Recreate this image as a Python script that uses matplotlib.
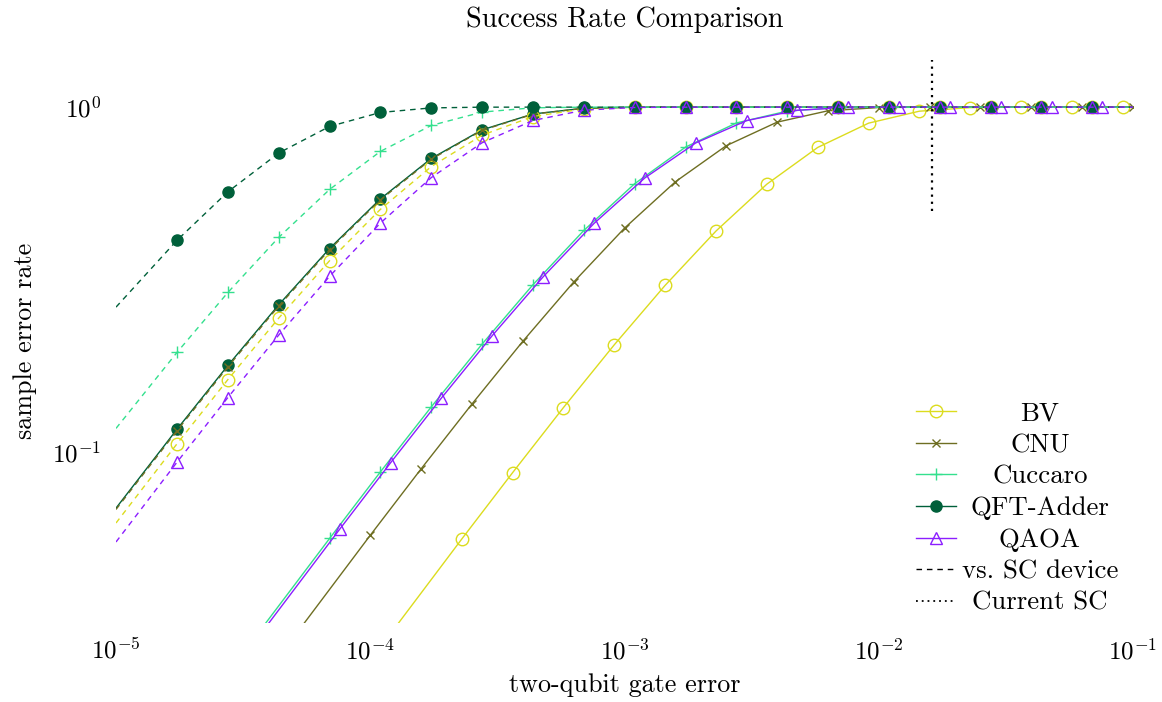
import matplotlib
matplotlib.use("Agg")
import matplotlib.pyplot as plt
from matplotlib.lines import Line2D
from matplotlib.ticker import NullFormatter, NullLocator, FixedLocator

plt.rcParams['font.family'] = 'serif'
plt.rcParams['font.serif'] = ['cmr10']
plt.rcParams['mathtext.fontset'] = 'cm'
plt.rcParams['axes.unicode_minus'] = False
plt.rcParams['axes.formatter.use_mathtext'] = True

# two-qubit gate error grid used by the "vs. SC device" curves (and QFT-Adder)
err_sc = [1.000e-5, 1.738e-5, 2.754e-5, 4.365e-5, 6.918e-5, 1.096e-4, 1.738e-4,
          2.754e-4, 4.365e-4, 6.918e-4, 1.096e-3, 1.738e-3, 2.754e-3, 4.365e-3,
          6.918e-3, 1.096e-2, 1.738e-2, 2.754e-2, 4.365e-2, 6.918e-2, 1.000e-1]

bv_sc = [0.0622, 0.1056, 0.1621, 0.2444, 0.3586, 0.5052, 0.6724, 0.8293, 0.9393,
         0.9882, 0.9991, 1.0, 1.0, 1.0, 1.0, 1.0, 1.0, 1.0, 1.0, 1.0, 1.0]
cnu_sc = [0.0681, 0.1153, 0.1765, 0.2648, 0.3860, 0.5382, 0.7063, 0.8565, 0.9539,
          0.9924, 0.9996, 1.0, 1.0, 1.0, 1.0, 1.0, 1.0, 1.0, 1.0, 1.0, 1.0]
cuccaro_sc = [0.117, 0.1944, 0.290, 0.419, 0.577, 0.744, 0.885, 0.9675, 0.9956,
              0.9998, 1.0, 1.0, 1.0, 1.0, 1.0, 1.0, 1.0, 1.0, 1.0, 1.0, 1.0]
qft_sc = [0.263, 0.411, 0.568, 0.736, 0.879, 0.965, 0.995, 0.9998, 1.0, 1.0, 1.0,
          1.0, 1.0, 1.0, 1.0, 1.0, 1.0, 1.0, 1.0, 1.0, 1.0]
qaoa_sc = [0.0548, 0.0934, 0.1438, 0.2182, 0.3231, 0.4610, 0.6247, 0.7884, 0.9147,
           0.9798, 0.9979, 0.9999, 1.0, 1.0, 1.0, 1.0, 1.0, 1.0, 1.0, 1.0, 1.0]

# solid curves
err_bv = [1.259e-4, 2.291e-4, 3.631e-4, 5.754e-4, 9.120e-4, 1.445e-3, 2.291e-3,
          3.631e-3, 5.754e-3, 9.120e-3, 1.445e-2, 2.291e-2, 3.631e-2, 5.754e-2,
          9.120e-2, 1.000e-1]
bv = [0.0311, 0.0559, 0.0871, 0.1345, 0.2046, 0.3042, 0.4373, 0.5980, 0.7641,
      0.8986, 0.9734, 0.9968, 0.9999, 1.0, 1.0, 1.0]

err_cnu = [5.012e-5, 1.000e-4, 1.585e-4, 2.512e-4, 3.981e-4, 6.310e-4, 1.000e-3,
           1.585e-3, 2.512e-3, 3.981e-3, 6.310e-3, 1.000e-2, 1.585e-2, 2.512e-2,
           3.981e-2, 6.310e-2, 1.000e-1]
cnu = [0.0291, 0.0573, 0.0893, 0.1377, 0.2093, 0.3109, 0.4457, 0.6074, 0.7728,
       0.9045, 0.9758, 0.9973, 0.9999, 1.0, 1.0, 1.0, 1.0]

err_cuccaro = [3.162e-5, 6.918e-5, 1.096e-4, 1.738e-4, 2.754e-4, 4.365e-4, 6.918e-4,
               1.096e-3, 1.738e-3, 2.754e-3, 4.365e-3, 6.918e-3, 1.096e-2, 1.738e-2,
               2.754e-2, 4.365e-2, 6.918e-2, 1.000e-1]
cuccaro = [0.0261, 0.0561, 0.0875, 0.1351, 0.2055, 0.3055, 0.4388, 0.5996, 0.7657,
           0.8997, 0.9739, 0.9969, 0.9999, 1.0, 1.0, 1.0, 1.0, 1.0]

qft = [0.0687, 0.1164, 0.1781, 0.2671, 0.3890, 0.5418, 0.7099, 0.8593, 0.9553,
       0.9927, 0.9996, 1.0, 1.0, 1.0, 1.0, 1.0, 1.0, 1.0, 1.0, 1.0, 1.0]

err_qaoa = [3.162e-5, 7.586e-5, 1.202e-4, 1.905e-4, 3.020e-4, 4.786e-4, 7.586e-4,
            1.202e-3, 1.905e-3, 3.020e-3, 4.786e-3, 7.586e-3, 1.202e-2, 1.905e-2,
            3.020e-2, 4.786e-2, 7.586e-2, 1.000e-1]
qaoa = [0.0254, 0.0597, 0.0930, 0.1433, 0.2175, 0.3220, 0.4599, 0.6232, 0.7871,
        0.9139, 0.9795, 0.9979, 1.0, 1.0, 1.0, 1.0, 1.0, 1.0]

current_sc_err = 0.0162
current_sc_span = [0.5, 1.37]

c_bv = '#dcdc1e'
c_cnu = '#6e6e22'
c_cuccaro = '#34e08e'
c_qft = '#00603a'
c_qaoa = '#8c1eff'

fig = plt.figure(figsize=(11.62, 7.02), dpi=100)
ax = fig.add_axes([116 / 1162, 1 - 623 / 702, (1133 - 116) / 1162, (623 - 60) / 702])
ax.set_xscale('log')
ax.set_yscale('log')

dash = (4, 3.5)
fs_tick = 18
fs_label = 18.8
fs_title = 20.4
fs_leg = 19.3

# solid curves
ax.plot(err_bv, bv, color=c_bv, lw=1.0, marker='o', ms=9, mfc='none', mew=1.0,
        markevery=slice(1, len(bv) - 1), label='BV')
ax.plot(err_cnu, cnu, color=c_cnu, lw=1.0, marker='x', ms=6, mew=1.0,
        markevery=slice(1, len(cnu)), label='CNU')
ax.plot(err_cuccaro, cuccaro, color=c_cuccaro, lw=1.0, marker='+', ms=9, mew=1.0,
        markevery=slice(1, len(cuccaro) - 1), label='Cuccaro')
ax.plot(err_sc, qft, color=c_qft, lw=1.0, marker='o', ms=8, mew=1.0,
        markevery=slice(1, len(qft) - 1), label='QFT-Adder')
ax.plot(err_qaoa, qaoa, color=c_qaoa, lw=1.0, marker='^', ms=8, mfc='none', mew=1.0,
        markevery=slice(1, len(qaoa) - 1), label='QAOA')

# vs. SC device curves
ax.plot(err_sc, bv_sc, color=c_bv, lw=1.0, dashes=dash, marker='o', ms=9, mfc='none',
        mew=1.0, markevery=slice(1, len(bv_sc) - 1))
ax.plot(err_sc, cnu_sc, color=c_cnu, lw=1.0, dashes=dash, marker='x', ms=6, mew=1.0,
        markevery=slice(1, len(cnu_sc) - 1))
ax.plot(err_sc, cuccaro_sc, color=c_cuccaro, lw=1.0, dashes=dash, marker='+', ms=9,
        mew=1.0, markevery=slice(1, len(cuccaro_sc) - 1))
ax.plot(err_sc, qft_sc, color=c_qft, lw=1.0, dashes=dash, marker='o', ms=8, mew=1.0,
        markevery=slice(1, len(qft_sc) - 1))
ax.plot(err_sc, qaoa_sc, color=c_qaoa, lw=1.0, dashes=dash, marker='^', ms=8,
        mfc='none', mew=1.0, markevery=slice(1, len(qaoa_sc) - 1))

ax.plot([current_sc_err, current_sc_err], current_sc_span, color='black', lw=1.6,
        dashes=(1, 2.2))

ax.set_xlim(1e-5, 1e-1)
ax.set_ylim(0.0319, 1.37)
for s in ax.spines.values():
    s.set_visible(False)
ax.xaxis.set_major_locator(FixedLocator([1e-5, 1e-4, 1e-3, 1e-2, 1e-1]))
ax.yaxis.set_major_locator(FixedLocator([1e-1, 1e0]))
ax.xaxis.set_minor_locator(NullLocator())
ax.yaxis.set_minor_locator(NullLocator())
ax.xaxis.set_minor_formatter(NullFormatter())
ax.yaxis.set_minor_formatter(NullFormatter())
ax.tick_params(axis='both', length=0, labelsize=fs_tick)
ax.tick_params(axis='x', pad=11)
ax.tick_params(axis='y', pad=11)

cx = (116 + 1133) / 2 / 1162
fig.text(cx, 1 - 27 / 702, 'Success Rate Comparison', ha='center', va='baseline',
         fontsize=fs_title)
fig.text(cx, 1 - 692 / 702, 'two-qubit gate error', ha='center', va='baseline',
         fontsize=fs_label)
fig.text(25 / 1162, 1 - 341 / 702, 'sample error rate', ha='center', va='center',
         rotation=90, fontsize=fs_label)

handles, labels = ax.get_legend_handles_labels()
handles += [Line2D([], [], color='black', lw=1.0, dashes=dash),
            Line2D([], [], color='black', lw=1.3, dashes=(1, 2.2))]
labels += ['vs. SC device', 'Current SC']
leg = ax.legend(handles, labels, loc='lower right', frameon=False, fontsize=fs_leg,
                handlelength=1.49, handletextpad=0.22, labelspacing=0.29, numpoints=1,
                borderaxespad=0.0, borderpad=0.0,
                bbox_to_anchor=((1118 - 116) / 1017, 8 / 563))

fig.canvas.draw()
r = fig.canvas.get_renderer()
texts = leg.get_texts()
widths = [t.get_window_extent(r).width for t in texts]
wmax = max(widths)
for t, w in zip(texts, widths):
    t.set_x((wmax - w) / 2)

fig.savefig('out.png', dpi=100)
